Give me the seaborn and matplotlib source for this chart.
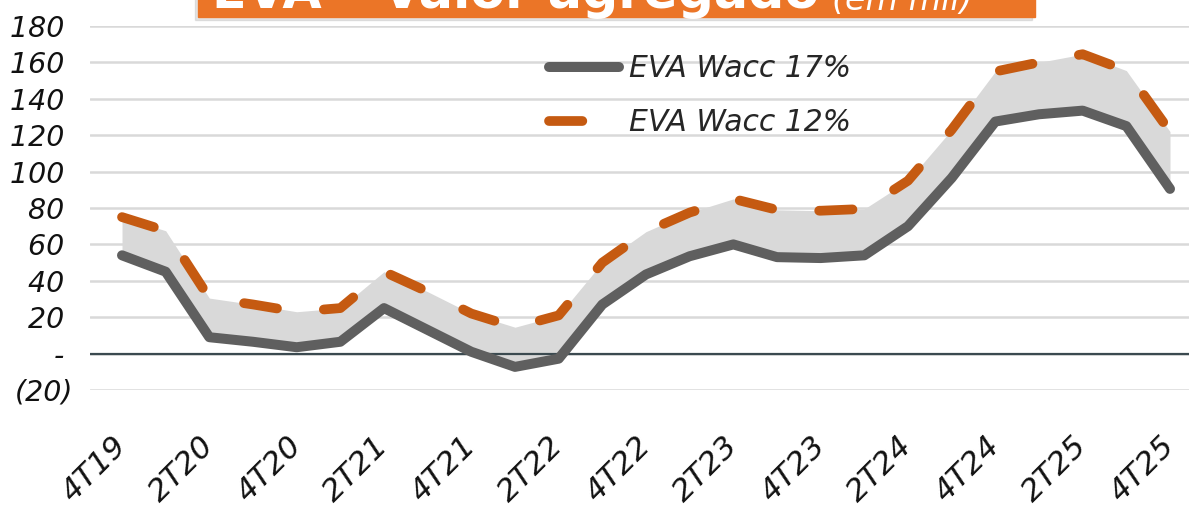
import matplotlib
matplotlib.use("Agg")
import numpy as np
import pandas as pd
import matplotlib.pyplot as plt
import seaborn as sns
from matplotlib.patches import Rectangle

# quarterly EVA (em mil)
quarters = ["4T19", "1T20", "2T20", "3T20", "4T20", "1T21", "2T21", "3T21", "4T21",
            "1T22", "2T22", "3T22", "4T22", "1T23", "2T23", "3T23", "4T23",
            "1T24", "2T24", "3T24", "4T24", "1T25", "2T25", "3T25", "4T25"]
eva_wacc17 = [54, 45, 9, 6.5, 3.5, 6.5, 25, 13, 1, -7.3, -2.8, 27, 43.5, 53.5,
              60, 53, 52.5, 54, 70, 96.5, 127.5, 131.5, 133.5, 125, 90.5]
eva_wacc12 = [75, 67.5, 30.5, 27, 23, 25, 45, 34, 22, 14.5, 21, 50, 67, 77.5,
              85, 79, 78.5, 79.5, 95, 123, 155, 160, 164.5, 155.5, 122]
label17 = "EVA Wacc 17%"
label12 = "EVA Wacc 12%"
y_ticks = [-20, 0, 20, 40, 60, 80, 100, 120, 140, 160, 180]
y_labels = ["(20)", "- ", "20 ", "40 ", "60 ", "80 ", "100 ", "120 ", "140 ", "160 ", "180 "]
title_main = "EVA \u2013 Valor agregado"
title_unit = "(em mil)"

GRAY = "#5F5F5F"
ORANGE = "#C55A11"
FILL = "#D9D9D9"
BOX = "#EB7527"

sns.set_theme(style="white")
plt.rcParams["font.family"] = ["DejaVu Sans"]
plt.rcParams["lines.scale_dashes"] = False

df = pd.DataFrame({"pos": np.arange(len(quarters)), "trimestre": quarters,
                   label17: eva_wacc17, label12: eva_wacc12})

W, H = 1189, 514
fig = plt.figure(figsize=(W / 100, H / 100), dpi=100)
ax = fig.add_axes([90 / W, 1 - 390 / H, 1 - 90 / W, (390 - 26) / H])

ax.fill_between(df["pos"], df[label17], df[label12], color=FILL, lw=0, zorder=1)
sns.lineplot(data=df, x="pos", y=label17, ax=ax, color=GRAY, lw=7.2, label=label17,
             solid_capstyle="round", solid_joinstyle="round", zorder=4)
sns.lineplot(data=df, x="pos", y=label12, ax=ax, color=ORANGE, lw=7.0, label=label12,
             linestyle=(0, (24, 34)), dash_capstyle="round", dash_joinstyle="round", zorder=3)

ax.axhline(0, color="#3B4A50", lw=1.6, zorder=2)
ax.set_ylim(-20, 180)
ax.set_xlim(-0.733, 24.435)
ax.set_yticks(y_ticks)
ax.set_yticklabels(y_labels, fontsize=20.5, fontstyle="italic", color="#111111")
ax.set_xticks(df["pos"][::2])
ax.set_xticklabels(quarters[::2], fontsize=22.5, fontstyle="italic", color="#111111",
                   rotation=45, ha="right", va="center", rotation_mode="anchor")
ax.tick_params(axis="y", length=0, pad=12)
ax.tick_params(axis="x", length=0, pad=37)
ax.yaxis.grid(True, color=FILL, lw=1.8)
ax.set_axisbelow(True)
for s in ax.spines.values():
    s.set_visible(False)
ax.set_xlabel("")
ax.set_ylabel("")

leg = ax.legend(loc="upper left", bbox_to_anchor=(0.418, 0.922), frameon=False,
                fontsize=21.5, handlelength=2.33, handletextpad=0.33, labelspacing=0.83,
                borderaxespad=0, borderpad=0)
for t in leg.get_texts():
    t.set_fontstyle("italic")

# title banner, mostly cut off at the top edge
fig.patches.append(Rectangle((195 / W, 1 - 20 / H), (1035 - 198) / W, 0.1,
                             transform=fig.transFigure, color="#9A9A9A", alpha=0.25, zorder=5))
fig.patches.append(Rectangle((198 / W, 1 - 17 / H), (1035 - 198) / W, 0.1,
                             transform=fig.transFigure, color=BOX, zorder=6))
fig.text(212 / W, 1 - 8 / H, title_main, color="white", fontsize=36.5, fontweight="bold",
         va="baseline", ha="left", zorder=7)
fig.text(832 / W, 1 - 10 / H, title_unit, color="white", fontsize=24, fontstyle="italic",
         va="baseline", ha="left", zorder=7)

fig.savefig("out.png", dpi=100)
plt.close(fig)
